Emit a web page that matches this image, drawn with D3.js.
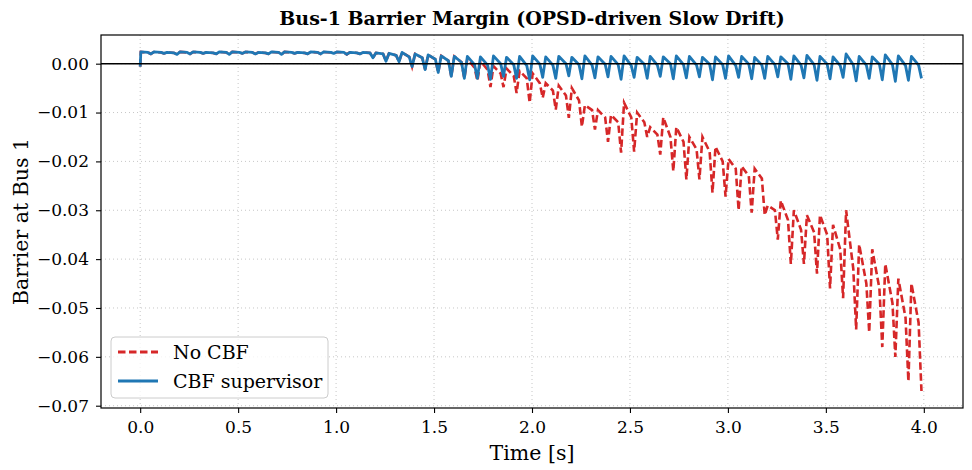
<!DOCTYPE html>
<html>
<head>
<meta charset="utf-8">
<script src="https://cdn.jsdelivr.net/npm/d3@7"></script>
<style>
  body { margin: 0; background: #fff; }
  text { font-family: "DejaVu Serif", serif; fill: #000; }
</style>
</head>
<body>
<div id="chart"></div>
<script>
// one oscillation cycle every 1/15 s, 60 cycles over 0..4 s
var cycleT = 1 / 15
var xTicks = [0, 0.5, 1, 1.5, 2, 2.5, 3, 3.5, 4]
var yTicks = [0, -0.01, -0.02, -0.03, -0.04, -0.05, -0.06, -0.07]

// value at t = 0 before the first cycle
var startValue = -0.0006

// CBF supervisor: per cycle peak (overshoot) / base (after decay) / trough (dip)
var bluePeak = [
  0.0024, 0.0024, 0.0023, 0.0024, 0.0024, 0.0023, 0.0024, 0.0024, 0.0024, 0.0023,
  0.0024, 0.0024, 0.0023, 0.0024, 0.0024, 0.0024, 0.0023, 0.0023, 0.0022, 0.0021,
  0.0023, 0.0020, 0.0018, 0.0016, 0.0015, 0.0015, 0.0014, 0.0016, 0.0013, 0.0015,
  0.0016, 0.0014, 0.0015, 0.0013, 0.0016, 0.0014, 0.0015, 0.0016, 0.0013, 0.0015,
  0.0014, 0.0016, 0.0015, 0.0013, 0.0014, 0.0016, 0.0015, 0.0013, 0.0015, 0.0014,
  0.0016, 0.0017, 0.0015, 0.0014, 0.0020, 0.0015, 0.0014, 0.0018, 0.0016, 0.0015]
var blueBase = [
  0.0023, 0.0023, 0.0022, 0.0023, 0.0023, 0.0022, 0.0023, 0.0023, 0.0023, 0.0022,
  0.0023, 0.0023, 0.0022, 0.0023, 0.0023, 0.0023, 0.0022, 0.0022, 0.0020, 0.0017,
  0.0014, 0.0012, 0.0009, 0.0006, 0.0003, -0.0002, -0.0003, 0.0000, -0.0002, -0.0004,
  -0.0001, -0.0003, 0.0000, -0.0002, -0.0003, -0.0001, -0.0002, -0.0004, -0.0001, -0.0003,
  0.0000, -0.0002, -0.0003, -0.0001, -0.0002, -0.0004, -0.0001, -0.0003, -0.0002, 0.0000,
  -0.0003, -0.0002, -0.0001, -0.0004, -0.0002, -0.0003, -0.0001, -0.0002, -0.0004, -0.0003]
var blueTrough = [
  0.0020, 0.0021, 0.0019, 0.0020, 0.0021, 0.0020, 0.0019, 0.0021, 0.0020, 0.0020,
  0.0019, 0.0021, 0.0020, 0.0020, 0.0021, 0.0019, 0.0020, 0.0012, 0.0005, 0.0004,
  -0.0006, -0.0012, -0.0018, -0.0026, -0.0030, -0.0030, -0.0032, -0.0026, -0.0030, -0.0033,
  -0.0028, -0.0030, -0.0025, -0.0031, -0.0029, -0.0027, -0.0032, -0.0028, -0.0030, -0.0026,
  -0.0031, -0.0029, -0.0027, -0.0033, -0.0030, -0.0028, -0.0031, -0.0030, -0.0027, -0.0032,
  -0.0029, -0.0034, -0.0031, -0.0028, -0.0035, -0.0030, -0.0033, -0.0036, -0.0034, -0.0030]

// No CBF: per cycle peak / base / trough
var redPeak = [
  0.0024, 0.0024, 0.0023, 0.0024, 0.0024, 0.0023, 0.0024, 0.0024, 0.0024, 0.0023,
  0.0024, 0.0024, 0.0023, 0.0024, 0.0024, 0.0024, 0.0023, 0.0023, 0.0022, 0.0021,
  0.0023, 0.0020, 0.0018, 0.0016, 0.0015, 0.0010, 0.0005, -0.0005, -0.0010, -0.0015,
  -0.0020, -0.0040, -0.0045, -0.0050, -0.0085, -0.0095, -0.0105, -0.0080, -0.0100, -0.0130,
  -0.0110, -0.0130, -0.0150, -0.0150, -0.0170, -0.0195, -0.0210, -0.0215, -0.0290, -0.0280,
  -0.0300, -0.0310, -0.0310, -0.0330, -0.0300, -0.0370, -0.0380, -0.0410, -0.0440, -0.0450]
var redBase = [
  0.0023, 0.0023, 0.0022, 0.0023, 0.0023, 0.0022, 0.0023, 0.0023, 0.0023, 0.0022,
  0.0023, 0.0023, 0.0022, 0.0023, 0.0023, 0.0023, 0.0022, 0.0022, 0.0020, 0.0017,
  0.0014, 0.0012, 0.0009, 0.0006, 0.0003, -0.0008, -0.0012, -0.0020, -0.0025, -0.0030,
  -0.0040, -0.0055, -0.0065, -0.0075, -0.0095, -0.0110, -0.0120, -0.0110, -0.0120, -0.0145,
  -0.0150, -0.0160, -0.0175, -0.0180, -0.0200, -0.0215, -0.0230, -0.0235, -0.0300, -0.0320,
  -0.0340, -0.0345, -0.0350, -0.0380, -0.0420, -0.0450, -0.0460, -0.0490, -0.0520, -0.0530]
var redTrough = [
  0.0020, 0.0021, 0.0019, 0.0020, 0.0021, 0.0020, 0.0019, 0.0021, 0.0020, 0.0020,
  0.0019, 0.0021, 0.0020, 0.0020, 0.0021, 0.0019, 0.0020, 0.0012, 0.0005, 0.0004,
  -0.0006, -0.0012, -0.0018, -0.0026, -0.0030, -0.0035, -0.0048, -0.0048, -0.0060, -0.0080,
  -0.0070, -0.0094, -0.0111, -0.0129, -0.0135, -0.0160, -0.0182, -0.0180, -0.0150, -0.0186,
  -0.0220, -0.0237, -0.0237, -0.0264, -0.0272, -0.0300, -0.0305, -0.0310, -0.0360, -0.0410,
  -0.0410, -0.0430, -0.0460, -0.0480, -0.0544, -0.0550, -0.0580, -0.0600, -0.0650, -0.0670]

var width = 972
var height = 470
var margin = {top: 35, right: 9, bottom: 62, left: 101}

var svg = d3.select("#chart")
  .append("svg")
    .attr("width", width)
    .attr("height", height)

// vertex list of one series: overshoot peak -> decay to base -> quick dip -> next peak
function buildSeries(peak, base, trough) {
  var pts = [[0, startValue]]
  peak.forEach(function(p, k) {
    var t0 = k * cycleT
    pts.push([t0 + 0.05 * cycleT, p])
    pts.push([t0 + 0.60 * cycleT, base[k]])
    pts.push([t0 + 0.82 * cycleT, trough[k]])
  })
  return pts
}
var redPts = buildSeries(redPeak, redBase, redTrough)
var bluePts = buildSeries(bluePeak, blueBase, blueTrough)

// matplotlib style 5% margins
var allV = redPts.concat(bluePts).map(function(d){ return d[1] })
var vMin = d3.min(allV), vMax = d3.max(allV)
var vPad = (vMax - vMin) * 0.05

var x = d3.scaleLinear()
  .domain([-0.2, 4.2])
  .range([margin.left, width - margin.right])
var y = d3.scaleLinear()
  .domain([vMin - vPad, vMax + vPad])
  .range([height - margin.bottom, margin.top])

// grid
svg.append("g")
  .selectAll("line")
  .data(xTicks)
  .enter()
  .append("line")
    .attr("x1", function(d){ return x(d) })
    .attr("x2", function(d){ return x(d) })
    .attr("y1", margin.top)
    .attr("y2", height - margin.bottom)
    .attr("stroke", "#b0b0b0")
    .attr("stroke-width", 1)
    .style("stroke-dasharray", "1,3")
    .attr("opacity", 0.7)
svg.append("g")
  .selectAll("line")
  .data(yTicks)
  .enter()
  .append("line")
    .attr("x1", margin.left)
    .attr("x2", width - margin.right)
    .attr("y1", function(d){ return y(d) })
    .attr("y2", function(d){ return y(d) })
    .attr("stroke", "#b0b0b0")
    .attr("stroke-width", 1)
    .style("stroke-dasharray", "1,3")
    .attr("opacity", 0.7)

svg.append("clipPath")
    .attr("id", "plot-area")
  .append("rect")
    .attr("x", margin.left)
    .attr("y", margin.top)
    .attr("width", width - margin.left - margin.right)
    .attr("height", height - margin.top - margin.bottom)

var line = d3.line()
  .x(function(d){ return x(d[0]) })
  .y(function(d){ return y(d[1]) })

var plot = svg.append("g").attr("clip-path", "url(#plot-area)")

plot.append("path")
  .datum(redPts)
    .attr("d", line)
    .attr("fill", "none")
    .attr("stroke", "#d62728")
    .attr("stroke-width", 2.6)
    .style("stroke-dasharray", "7.5,3.5")

plot.append("path")
  .datum(bluePts)
    .attr("d", line)
    .attr("fill", "none")
    .attr("stroke", "#1f77b4")
    .attr("stroke-width", 2.8)
    .attr("stroke-linejoin", "round")

// zero line
plot.append("line")
    .attr("x1", margin.left)
    .attr("x2", width - margin.right)
    .attr("y1", y(0))
    .attr("y2", y(0))
    .attr("stroke", "#000")
    .attr("stroke-width", 1.5)

// axes
var xAxis = svg.append("g")
    .attr("transform", "translate(0," + (height - margin.bottom) + ")")
    .call(d3.axisBottom(x).tickValues(xTicks).tickFormat(d3.format(".1f")).tickSize(5).tickPadding(8))
var yAxis = svg.append("g")
    .attr("transform", "translate(" + margin.left + ",0)")
    .call(d3.axisLeft(y).tickValues(yTicks).tickFormat(d3.format(".2f")).tickSize(5).tickPadding(7))
;[xAxis, yAxis].forEach(function(g) {
  g.select(".domain").remove()
  g.selectAll(".tick line").attr("stroke", "#000").attr("stroke-width", 1.1)
  g.selectAll(".tick text").style("font-family", "DejaVu Serif").style("font-size", "17px")
})

// frame
svg.append("rect")
    .attr("x", margin.left)
    .attr("y", margin.top)
    .attr("width", width - margin.left - margin.right)
    .attr("height", height - margin.top - margin.bottom)
    .attr("fill", "none")
    .attr("stroke", "#000")
    .attr("stroke-width", 1.2)

// labels
svg.append("text")
    .attr("x", (margin.left + width - margin.right) / 2)
    .attr("y", 25)
    .attr("text-anchor", "middle")
    .style("font-size", "19px")
    .style("font-weight", "bold")
    .text("Bus-1 Barrier Margin (OPSD-driven Slow Drift)")
svg.append("text")
    .attr("x", (margin.left + width - margin.right) / 2)
    .attr("y", 460)
    .attr("text-anchor", "middle")
    .style("font-size", "20.5px")
    .text("Time [s]")
svg.append("text")
    .attr("transform", "translate(28," + ((margin.top + height - margin.bottom) / 2) + ") rotate(-90)")
    .attr("text-anchor", "middle")
    .style("font-size", "20.5px")
    .text("Barrier at Bus 1")

// legend
var legend = svg.append("g")
legend.append("rect")
    .attr("x", 111)
    .attr("y", 337)
    .attr("width", 217)
    .attr("height", 61)
    .attr("rx", 4)
    .attr("fill", "#fff")
    .attr("fill-opacity", 0.8)
    .attr("stroke", "#cccccc")
    .attr("stroke-width", 1)
var legendItems = [
  {label: "No CBF", color: "#d62728", dash: "7.5,3.5"},
  {label: "CBF supervisor", color: "#1f77b4", dash: null}
]
legend.selectAll("line.item")
  .data(legendItems)
  .enter()
  .append("line")
    .attr("x1", 118)
    .attr("x2", 158)
    .attr("y1", function(d, i){ return 352 + i * 29 })
    .attr("y2", function(d, i){ return 352 + i * 29 })
    .attr("stroke", function(d){ return d.color })
    .attr("stroke-width", 2.8)
    .style("stroke-dasharray", function(d){ return d.dash })
legend.selectAll("text.item")
  .data(legendItems)
  .enter()
  .append("text")
    .attr("x", 173)
    .attr("y", function(d, i){ return 352 + i * 29 })
    .attr("dominant-baseline", "central")
    .style("font-size", "19px")
    .text(function(d){ return d.label })
</script>
</body>
</html>
